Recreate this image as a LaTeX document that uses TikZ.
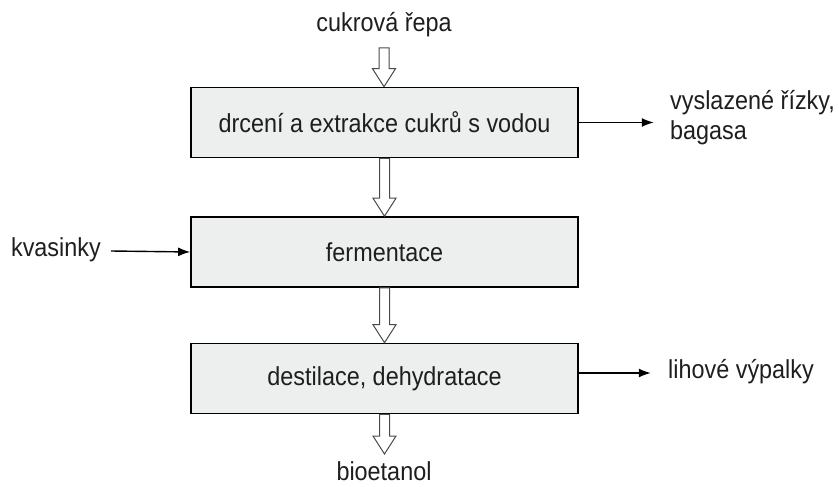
\documentclass[tikz,border=0pt]{standalone}
\usepackage{fontspec}
\setmainfont{Liberation Sans}[FakeStretch=0.9]
\usetikzlibrary{calc,arrows.meta}

\definecolor{boxfill}{HTML}{EDEEEE}
\definecolor{textcol}{HTML}{1E1E1E}
\definecolor{hollow}{HTML}{4A4A4A}

\tikzset{
  x=1pt, y=-1pt,
  stepbox/.style={draw=black, line width=1.6pt, fill=boxfill,
    minimum width=387pt, minimum height=70pt, inner sep=0pt,
    font=\fontsize{26}{30}\selectfont, text=textcol},
  label/.style={inner sep=0pt, font=\fontsize{26}{30}\selectfont, text=textcol},
  sidearrow/.style={line width=1.4pt, -{Latex[length=12pt,width=9pt]}},
  blockarrow/.style={draw=hollow, line width=1pt, fill=white, line join=miter},
}

% hollow block arrow from point #1 down to tip point #2
\newcommand\hollowdown[2]{%
  \path[blockarrow] let \p1=#1, \p2=#2 in
    ({\x1-5pt},\y1) -- ({\x1-5pt},{\y2+18pt}) -- ({\x1-11.5pt},{\y2+18pt})
    -- (\x1,\y2) -- ({\x1+11.5pt},{\y2+18pt}) -- ({\x1+5pt},{\y2+18pt})
    -- ({\x1+5pt},\y1) -- cycle;}

\begin{document}
\begin{tikzpicture}
  \useasboundingbox (0,0) rectangle (839,487);

  % process steps
  \node[stepbox] (extr) at (384.5,122.5) {drcení a extrakce cukrů s vodou};
  \node[stepbox] (ferm) at (384.5,252) {fermentace};
  \node[stepbox] (dest) at (384.5,378.5) {destilace, dehydratace};

  % inputs and outputs
  \node[label] (repa) at (384,25) {cukrová řepa};
  \coordinate (repaend) at (384,48);
  \node[label, anchor=east] (kvas) at (101,250) {kvasinky};
  \node[label, anchor=west, align=left] (bagasa) at (670,118) {vyslazené řízky,\\bagasa};
  \node[label, anchor=west] (vypalky) at (668,372) {lihové výpalky};
  \node[label] (etanol) at (384,471.5) {bioetanol};
  \coordinate (etanoltip) at (384,454);

  % main flow
  \hollowdown{(repaend)}{(extr.north)}
  \hollowdown{(extr.south)}{(ferm.north)}
  \hollowdown{(ferm.south)}{(dest.north)}
  \hollowdown{(dest.south)}{(etanoltip)}

  % side streams
  \draw[sidearrow] (extr.east) -- ++(75,0) coordinate (bagasaend);
  \draw[sidearrow] ($(kvas.east)+(10,1)$) -- (ferm.west);
  \draw[sidearrow] ($(dest.east)+(0,-5.5)$) -- ++(72,0) coordinate (vypalkyend);
\end{tikzpicture}
\end{document}
